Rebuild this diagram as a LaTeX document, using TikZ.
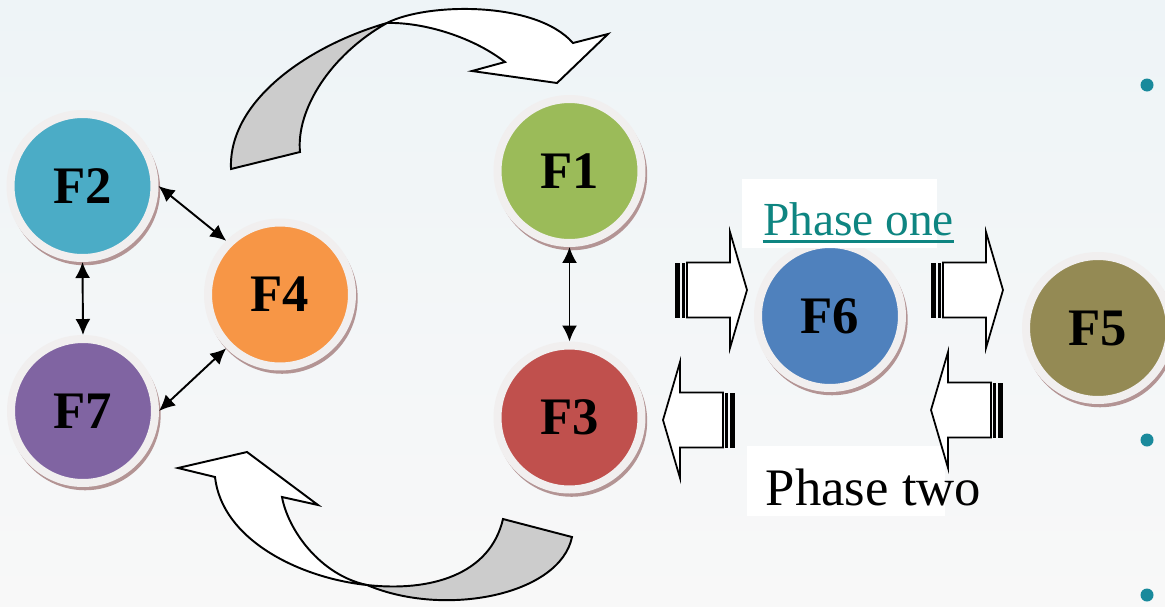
\documentclass[tikz,border=0pt]{standalone}
\usepackage{fontspec}
\setmainfont{Liberation Serif}
\usetikzlibrary{arrows.meta,shadows}

\definecolor{fone}{HTML}{9BBB59}
\definecolor{ftwo}{HTML}{4BACC6}
\definecolor{fthree}{HTML}{C0504D}
\definecolor{ffour}{HTML}{F79646}
\definecolor{ffive}{HTML}{948A54}
\definecolor{fsix}{HTML}{4F81BD}
\definecolor{fseven}{HTML}{8064A2}
\definecolor{ringwhite}{HTML}{F1EFEF}
\definecolor{ringshadow}{HTML}{B39494}
\definecolor{ribbongray}{HTML}{CCCCCC}
\definecolor{phaseteal}{HTML}{0E8581}
\definecolor{bullet}{HTML}{1A8A9C}
\definecolor{bgtop}{HTML}{EEF4F7}
\definecolor{bgbot}{HTML}{F8F8F8}

\tikzset{
  fnode/.style={circle, minimum size=2.88cm, inner sep=0pt, fill=#1,
    draw=ringwhite, line width=0.16cm,
    font=\fontsize{30}{31}\selectfont\bfseries,
    drop shadow={shadow xshift=0.04cm, shadow yshift=-0.07cm,
      shadow scale=1.05, fill=ringshadow, opacity=1}},
  link/.style={{Latex[length=0.32cm,width=0.3cm]}-{Latex[length=0.32cm,width=0.3cm]},
    line width=1.1pt},
  ribbon/.style={draw=black, line width=1.1pt, line join=miter},
  phasebox/.style={fill=white, inner sep=0pt},
  phasetext/.style={inner sep=0pt, anchor=base},
  stripearrow/.pic={
    \fill[black] (0,-27.5) rectangle (5,27.5);
    \fill[black] (7,-27.5) rectangle (10,27.5);
    \filldraw[fill=white, draw=black, line width=1pt]
      (12,-27.5) -- (55,-27.5) -- (55,-58) -- (72,0) -- (55,58) -- (55,27.5) -- (12,27.5) -- cycle;
  }
}

\begin{document}
\begin{tikzpicture}[x=0.02cm, y=-0.02cm]
  \useasboundingbox (0,0) rectangle (1165,606);
  \clip (0,0) rectangle (1165,606);
  \shade[top color=bgtop, bottom color=bgbot] (0,0) rectangle (1165,606);

  % turning ribbon, top
  \filldraw[ribbon, fill=ribbongray] (387,23) .. controls (310,45) and (228,100) .. (231,169)
    -- (300,152) .. controls (296,110) and (330,55) .. (387,23) -- cycle;
  \filldraw[ribbon, fill=white] (387,23) .. controls (425,3) and (535,0) .. (573,43)
    -- (608,34) -- (557,83) -- (472,71) -- (505,62)
    .. controls (470,35) and (420,22) .. (387,23) -- cycle;

  % turning ribbon, bottom
  \filldraw[ribbon, fill=ribbongray] (367,585) .. controls (430,592) and (490,575) .. (503,519)
    -- (572,537) .. controls (560,595) and (445,618) .. (367,585) -- cycle;
  \filldraw[ribbon, fill=white] (367,585) .. controls (300,578) and (222,540) .. (215,477)
    -- (178,468) -- (247,452) -- (318,505) -- (282,497)
    .. controls (288,530) and (320,575) .. (367,585) -- cycle;

  % the factors
  \node[fnode=ftwo]   (f2) at (82.5,186)   {F2};
  \node[fnode=ffour]  (f4) at (280,294.5)  {F4};
  \node[fnode=fseven] (f7) at (83,411)     {F7};
  \node[fnode=fone]   (f1) at (569.5,171)  {F1};
  \node[fnode=fthree] (f3) at (569.5,417.5) {F3};
  \node[fnode=fsix]   (f6) at (830,316)    {F6};
  \node[fnode=ffive]  (f5) at (1098,328)   {F5};

  \draw[link] (f2.east) -- (f4.north west);
  \draw[link] (f2.south) -- (f7.north);
  \draw[link] (f4.south west) -- (f7.east);
  \draw[link] (f1.south) -- (f3.north);

  % phase labels
  \node[phasebox, minimum width=3.9cm, minimum height=1.38cm] (onebox) at (839.5,213.5) {};
  \node[phasetext, text=phaseteal, font=\fontsize{27}{30}\selectfont] (one) at (858.5,235) {Phase one};
  \draw[phaseteal, line width=1.8pt] ([yshift=-3.6pt]one.base west) -- ([yshift=-3.6pt]one.base east);
  \node[phasebox, minimum width=3.96cm, minimum height=1.4cm] (twobox) at (846,481) {};
  \node[phasetext, font=\fontsize{30}{32}\selectfont] (two) at (873.5,505) {Phase two};

  % striped block arrows
  \pic at (675,290) {stripearrow};
  \pic at (931,290) {stripearrow};
  \pic[xscale=-1] at (735,420) {stripearrow};
  \pic[xscale=-1] at (1003,410) {stripearrow};

  \fill[bullet] (1147,85) circle (0.13cm);
  \fill[bullet] (1147,440) circle (0.13cm);
  \fill[bullet] (1147,595) circle (0.13cm);
\end{tikzpicture}
\end{document}
